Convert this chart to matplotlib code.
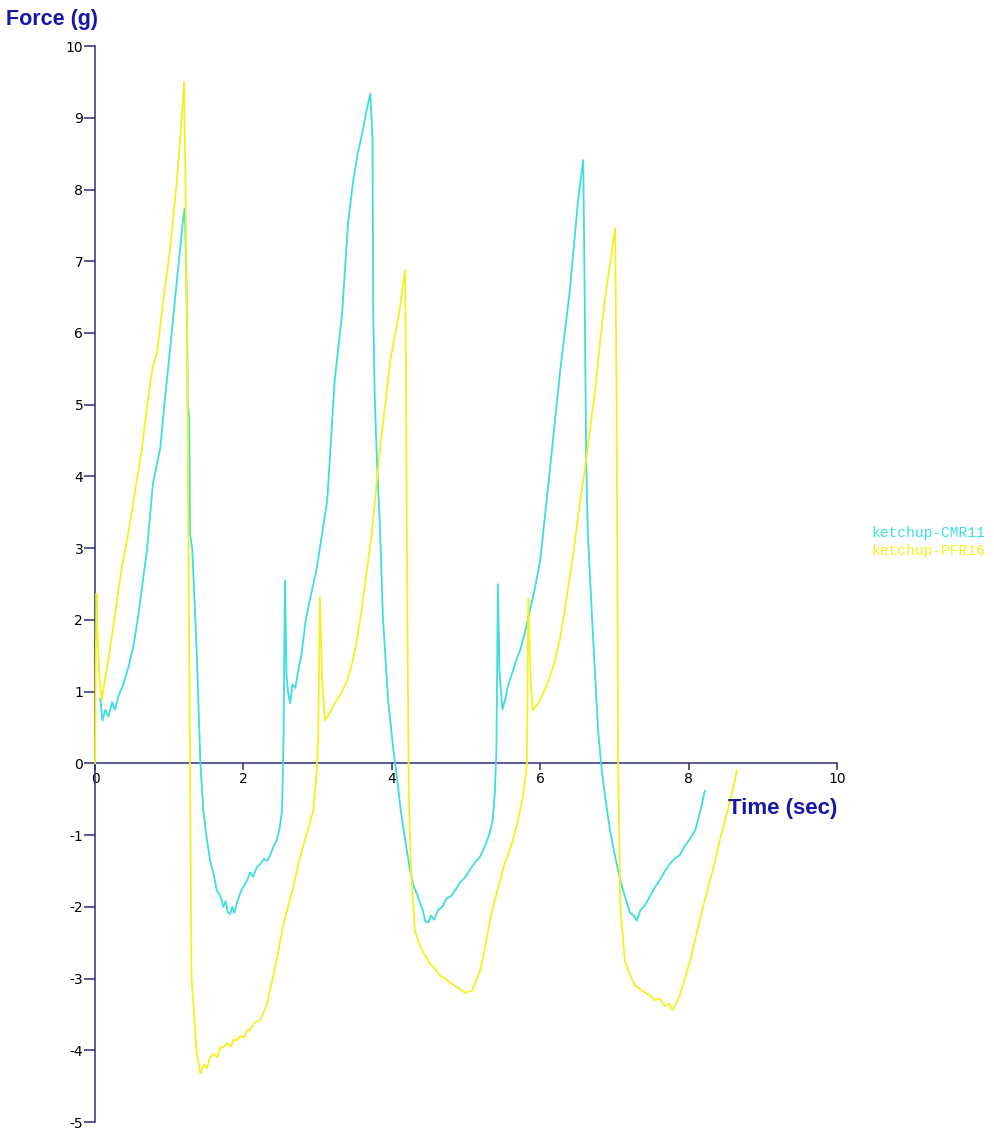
import matplotlib
matplotlib.use("Agg")
import matplotlib.pyplot as plt

# ketchup-CMR11 trace (time in s, force in g)
cmr_t = [0.07, 0.10, 0.14, 0.18, 0.23, 0.27, 0.31, 0.38, 0.45, 0.52, 0.58, 0.64, 0.70, 0.78,
         0.88, 0.94, 1.01, 1.10, 1.16, 1.19, 1.21, 1.23, 1.24, 1.25, 1.27, 1.28, 1.31, 1.34,
         1.37, 1.42, 1.46, 1.50, 1.55, 1.60, 1.64, 1.69, 1.73, 1.76, 1.79, 1.82, 1.85, 1.88,
         1.91, 1.96, 2.00, 2.05, 2.09, 2.13, 2.18, 2.23, 2.28, 2.32, 2.36, 2.41, 2.45, 2.49,
         2.52, 2.54, 2.56, 2.58, 2.60, 2.63, 2.66, 2.70, 2.74, 2.78, 2.84, 2.90, 2.99, 3.06,
         3.13, 3.23, 3.33, 3.41, 3.48, 3.54, 3.61, 3.66, 3.71, 3.74, 3.75, 3.77, 3.80, 3.84,
         3.88, 3.95, 4.02, 4.07, 4.12, 4.18, 4.24, 4.29, 4.34, 4.38, 4.42, 4.45, 4.49, 4.53,
         4.57, 4.62, 4.68, 4.74, 4.80, 4.86, 4.92, 4.98, 5.05, 5.12, 5.19, 5.26, 5.31, 5.36,
         5.39, 5.41, 5.43, 5.45, 5.49, 5.53, 5.57, 5.62, 5.68, 5.73, 5.80, 5.86, 5.93, 6.00,
         6.13, 6.27, 6.40, 6.51, 6.58, 6.60, 6.62, 6.64, 6.70, 6.78, 6.83, 6.88, 6.94, 7.01,
         7.08, 7.14, 7.21, 7.26, 7.30, 7.35, 7.41, 7.48, 7.55, 7.61, 7.68, 7.75, 7.82, 7.88,
         7.95, 8.02, 8.09, 8.15, 8.22]
cmr_f = [0.90, 0.60, 0.75, 0.65, 0.85, 0.75, 0.92, 1.10, 1.34, 1.65, 2.04, 2.50, 2.97, 3.90,
         4.40, 5.06, 5.76, 6.70, 7.30, 7.62, 7.74, 6.80, 6.20, 5.00, 4.80, 3.20, 3.00, 2.30,
         1.58, 0.00, -0.66, -1.00, -1.35, -1.55, -1.77, -1.85, -2.00, -1.92, -2.08, -2.10, -2.00, -2.08,
         -1.95, -1.80, -1.72, -1.63, -1.52, -1.58, -1.45, -1.40, -1.33, -1.36, -1.28, -1.15, -1.07, -0.89,
         -0.66, 0.30, 2.55, 1.25, 1.00, 0.84, 1.10, 1.05, 1.30, 1.50, 2.00, 2.30, 2.73, 3.20,
         3.67, 5.34, 6.27, 7.53, 8.13, 8.50, 8.83, 9.10, 9.34, 8.70, 6.30, 5.10, 4.20, 3.30,
         2.04, 0.88, 0.20, -0.20, -0.65, -1.07, -1.45, -1.70, -1.82, -1.95, -2.05, -2.20, -2.22, -2.12,
         -2.18, -2.05, -2.00, -1.88, -1.85, -1.76, -1.66, -1.60, -1.49, -1.38, -1.30, -1.14, -1.00, -0.80,
         -0.38, 0.20, 2.50, 1.30, 0.75, 0.90, 1.10, 1.25, 1.45, 1.58, 1.85, 2.13, 2.45, 2.83,
         4.09, 5.48, 6.60, 7.85, 8.41, 6.46, 4.20, 3.25, 2.00, 0.46, -0.10, -0.50, -0.93, -1.30,
         -1.63, -1.85, -2.08, -2.12, -2.19, -2.05, -1.98, -1.85, -1.72, -1.63, -1.50, -1.40, -1.32, -1.28,
         -1.15, -1.05, -0.93, -0.70, -0.38]

# ketchup-PFR16 trace
pfr_t = [0.00, 0.01, 0.02, 0.03, 0.06, 0.09, 0.14, 0.20, 0.28, 0.36, 0.43, 0.50, 0.57, 0.63,
         0.71, 0.77, 0.84, 0.92, 1.01, 1.10, 1.17, 1.20, 1.22, 1.24, 1.26, 1.28, 1.30, 1.37,
         1.42, 1.47, 1.51, 1.55, 1.60, 1.65, 1.69, 1.73, 1.78, 1.83, 1.87, 1.91, 1.96, 2.01,
         2.05, 2.09, 2.14, 2.18, 2.22, 2.27, 2.32, 2.36, 2.40, 2.47, 2.53, 2.60, 2.67, 2.73,
         2.80, 2.87, 2.94, 2.99, 3.01, 3.03, 3.06, 3.10, 3.17, 3.26, 3.33, 3.40, 3.47, 3.53,
         3.58, 3.64, 3.73, 3.84, 3.91, 3.98, 4.09, 4.18, 4.19, 4.21, 4.23, 4.26, 4.31, 4.38,
         4.45, 4.52, 4.58, 4.65, 4.72, 4.78, 4.85, 4.92, 4.99, 5.04, 5.08, 5.13, 5.19, 5.26,
         5.32, 5.39, 5.46, 5.52, 5.59, 5.65, 5.70, 5.78, 5.82, 5.84, 5.87, 5.90, 5.98, 6.06,
         6.13, 6.20, 6.27, 6.33, 6.40, 6.47, 6.53, 6.60, 6.67, 6.74, 6.80, 6.87, 6.94, 7.01,
         7.03, 7.05, 7.08, 7.14, 7.21, 7.28, 7.35, 7.42, 7.48, 7.55, 7.61, 7.68, 7.74, 7.78,
         7.83, 7.88, 7.95, 8.02, 8.09, 8.15, 8.22, 8.29, 8.36, 8.42, 8.49, 8.56, 8.61, 8.65]
pfr_f = [0.00, 1.50, 2.37, 1.90, 1.20, 0.88, 1.20, 1.58, 2.15, 2.73, 3.10, 3.53, 3.99, 4.37,
         5.06, 5.48, 5.76, 6.46, 7.15, 8.09, 9.01, 9.50, 8.00, 6.00, 3.00, 0.00, -2.98, -4.04,
         -4.32, -4.20, -4.25, -4.10, -4.05, -4.10, -3.96, -3.96, -3.90, -3.95, -3.85, -3.86, -3.80, -3.82,
         -3.72, -3.72, -3.62, -3.60, -3.58, -3.48, -3.35, -3.15, -2.98, -2.62, -2.29, -2.00, -1.73, -1.45,
         -1.17, -0.92, -0.66, -0.10, 0.50, 2.32, 1.20, 0.60, 0.72, 0.88, 1.00, 1.16, 1.42, 1.72,
         2.05, 2.51, 3.21, 4.37, 5.00, 5.62, 6.22, 6.88, 5.50, 2.00, -0.50, -1.50, -2.33, -2.55,
         -2.68, -2.80, -2.86, -2.96, -3.00, -3.05, -3.10, -3.15, -3.20, -3.18, -3.17, -3.05, -2.89, -2.55,
         -2.19, -1.90, -1.63, -1.40, -1.21, -1.00, -0.80, -0.38, 0.00, 2.30, 1.20, 0.74, 0.85, 1.02,
         1.20, 1.44, 1.75, 2.13, 2.60, 3.11, 3.60, 4.09, 4.65, 5.20, 5.80, 6.46, 6.95, 7.46,
         5.00, 0.00, -2.00, -2.75, -2.95, -3.10, -3.15, -3.20, -3.24, -3.30, -3.28, -3.38, -3.35, -3.44,
         -3.35, -3.24, -3.00, -2.75, -2.45, -2.19, -1.90, -1.63, -1.35, -1.07, -0.80, -0.52, -0.30, -0.10]

series_names = ["ketchup-CMR11", "ketchup-PFR16"]
series_colors = ["#3ddede", "#f2f21c"]
x_ticks = [0, 2, 4, 6, 8, 10]
y_ticks = list(range(-5, 11))

axis_col = "#2c2c7c"
label_col = "#1616a8"

fig = plt.figure(figsize=(9.95, 11.32), dpi=100)
ax = fig.add_axes([0.0955, 0.0088, 0.7457, 0.9505])

ax.plot(cmr_t, cmr_f, color=series_colors[0], lw=1.3, clip_on=False, zorder=3)
ax.plot(pfr_t, pfr_f, color=series_colors[1], lw=1.3, clip_on=False, zorder=3)

ax.set_xlim(0, 10)
ax.set_ylim(-5, 10)

# axes cross at the origin, like a strip-chart recorder
ax.spines["top"].set_visible(False)
ax.spines["right"].set_visible(False)
ax.spines["bottom"].set_position(("data", 0))
for s in ("left", "bottom"):
    ax.spines[s].set_color(axis_col)
    ax.spines[s].set_linewidth(1.1)
    ax.spines[s].set_zorder(2)

ax.set_xticks(x_ticks)
ax.set_yticks(y_ticks)
ax.set_xticklabels([str(v) for v in x_ticks])
ax.set_yticklabels([str(v) for v in y_ticks])
ax.tick_params(axis="y", direction="out", length=8, width=1.1, color=axis_col,
               pad=0.5, labelsize=10, labelcolor="black")
ax.tick_params(axis="x", direction="out", length=5, width=1.1, color=axis_col,
               pad=1.5, labelsize=10, labelcolor="black")

ax.text(10.0, -0.63, "Time (sec)", ha="right", va="center", fontsize=16,
        fontweight="bold", family="Liberation Sans", color=label_col)
fig.text(6 / 995, 1 - 20 / 1132, "Force (g)", ha="left", va="center", fontsize=15.5,
         fontweight="bold", family="Liberation Sans", color=label_col)

# legend as plain coloured text on the right
for i, (name, col) in enumerate(zip(series_names, series_colors)):
    fig.text(871 / 995, 1 - (533 + 18 * i) / 1132, name, ha="left", va="center",
             fontsize=10.5, family="Liberation Mono", color=col)

fig.savefig("out.png", dpi=100)
